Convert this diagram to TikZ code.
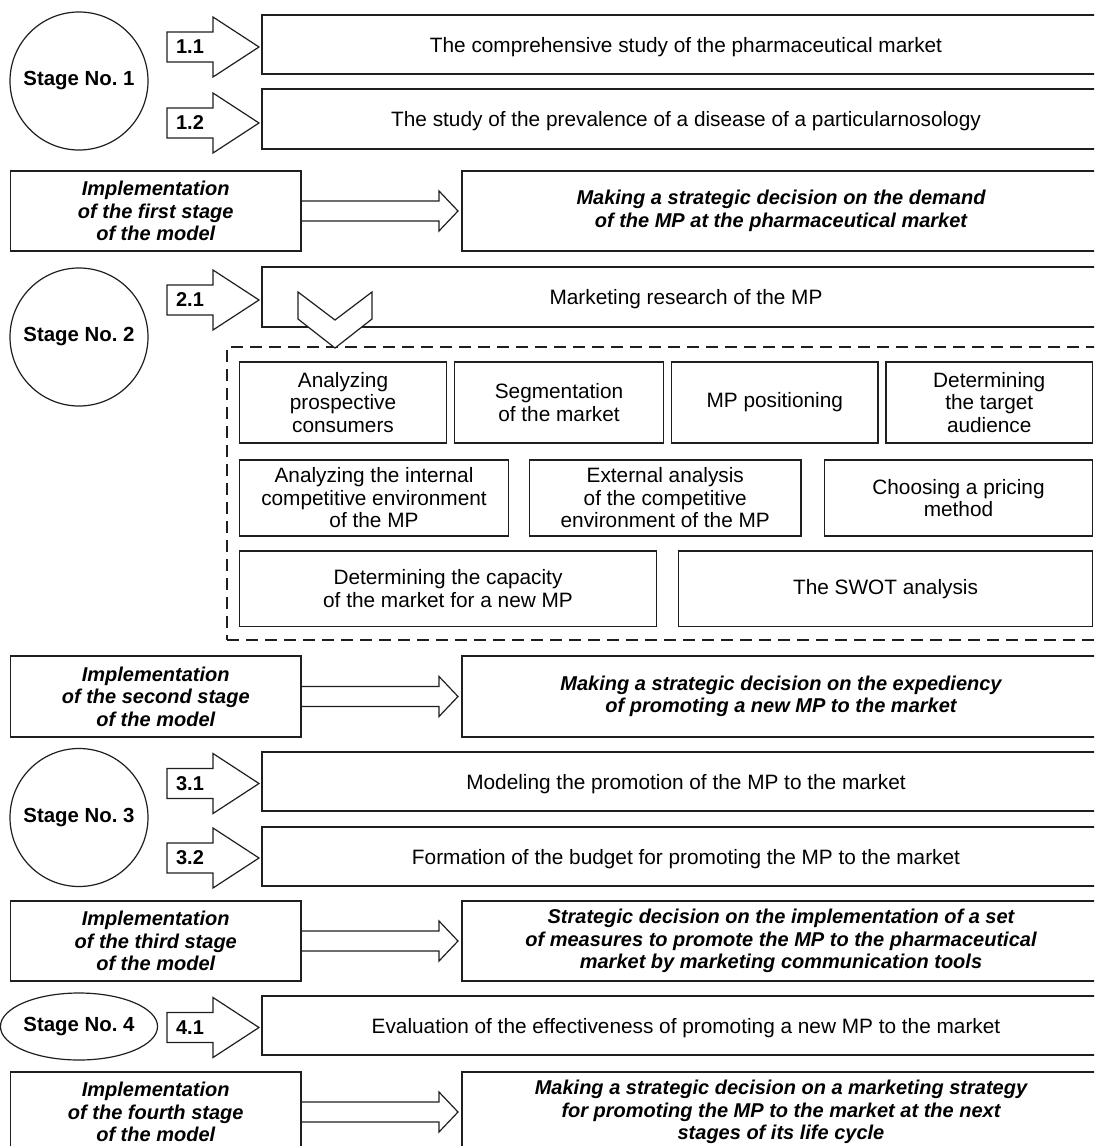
\documentclass[tikz,border=0pt]{standalone}
\usepackage{fontspec}
\setmainfont{Liberation Sans}
\usetikzlibrary{shapes.geometric,calc}
\frenchspacing
\tikzset{
  ln/.style={draw=black!88, line width=0.6pt},
  boxst/.style={ln, rectangle, inner sep=0pt, outer sep=0pt, align=center, fill=white,
    font=\fontsize{10.4}{11.25}\selectfont},
  implbox/.style={boxst, font=\fontsize{10}{11.25}\selectfont\bfseries\itshape},
  stagest/.style={ln, circle, inner sep=0pt, outer sep=0pt, minimum size=69pt,
    font=\fontsize{10.2}{12}\selectfont\bfseries},
  numlbl/.style={inner sep=0pt, font=\fontsize{10}{12}\selectfont\bfseries},
  blockar/.style={ln, fill=white, line join=miter},
  dashbox/.style={draw=black!88, line width=0.6pt, dash pattern=on 6pt off 3.5pt,
    rectangle, inner sep=0pt, outer sep=0pt}
}
\newcommand{\steparrow}[3]{%
  \draw[blockar] (167,#2-15) -- (213,#2-15) -- (213,#2-30) -- (259,#2) -- (213,#2+30)
    -- (213,#2+15) -- (167,#2+15) -- cycle;
  \node[numlbl] (#1) at (190,#2) {#3};
}
\newcommand{\implarrow}[2]{%
  \draw[blockar, fill=none] ($(#1.east)+(0,-10)$) -- ($(#2.west)+(-23,-10)$)
    -- ($(#2.west)+(-23,-20)$) -- ($(#2.west)+(-4,0)$) -- ($(#2.west)+(-23,20)$)
    -- ($(#2.west)+(-23,10)$) -- ($(#1.east)+(0,10)$);
}
\begin{document}
\begin{tikzpicture}[x=0.5pt,y=-0.5pt]
\useasboundingbox (0,0) rectangle (1094,1146);
\clip (0,0) rectangle (1094,1146);
\fill[white] (0,0) rectangle (1094,1146);

% ---------- Stage 1 ----------
\node[stagest] (s1) at (79,81) {Stage No.\ 1};
\node[boxst, text depth=0pt, minimum width=424pt, minimum height=29.5pt] (b11) at (686,44.5)
  {The comprehensive study of the pharmaceutical market};
\node[boxst, text depth=0pt, minimum width=424pt, minimum height=30pt] (b12) at (686,119)
  {The study of the prevalence of a disease of a particularnosology};
\steparrow{n11}{47}{1.1}
\steparrow{n12}{123}{1.2}

\node[implbox, minimum width=145.25pt, minimum height=40pt] (i1) at (155.75,211)
  {Implementation\\of the first stage\\of the model};
\node[implbox, minimum width=319pt, minimum height=40pt] (d1) at (781,211)
  {Making a strategic decision on the demand\\of the MP at the pharmaceutical market};
\implarrow{i1}{d1}

% ---------- Stage 2 ----------
\node[stagest] (s2) at (79,337) {Stage No.\ 2};
\node[boxst, text depth=0pt, minimum width=424pt, minimum height=30pt] (b21) at (686,297)
  {Marketing research of the MP};
\steparrow{n21}{300}{2.1}

\node[dashbox, minimum width=439pt, minimum height=146.5pt] (dash) at (666,493.5) {};

\node[boxst, minimum width=103.5pt, minimum height=40.5pt] (r1a) at (343,402.5)
  {Analyzing\\prospective\\consumers};
\node[boxst, minimum width=104.5pt, minimum height=40.5pt] (r1b) at (559,402.5)
  {Segmentation\\of the market};
\node[boxst, minimum width=103.25pt, minimum height=40.5pt] (r1c) at (774.75,402.5)
  {MP positioning};
\node[boxst, minimum width=103.25pt, minimum height=40.5pt] (r1d) at (989.25,402.5)
  {Determining\\the target\\audience};

\node[boxst, minimum width=134.5pt, minimum height=38pt] (r2a) at (374,498)
  {Analyzing the internal\\competitive environment\\of the MP};
\node[boxst, minimum width=135.75pt, minimum height=38pt] (r2b) at (665.25,498)
  {External analysis\\of the competitive\\environment of the MP};
\node[boxst, minimum width=134pt, minimum height=38pt] (r2c) at (958.5,498)
  {Choosing a pricing\\method};

\node[boxst, minimum width=208.5pt, minimum height=37.75pt] (r3a) at (448,588.75)
  {Determining the capacity\\of the market for a new MP};
\node[boxst, minimum width=207pt, minimum height=37.75pt] (r3b) at (885.5,588.75)
  {The SWOT analysis};

\draw[blockar] (298,292) -- (335,320) -- (372,292) -- (372,319) -- (335,348)
  -- (298,319) -- cycle;

\node[implbox, minimum width=145.25pt, minimum height=40.5pt] (i2) at (155.75,696.5)
  {Implementation\\of the second stage\\of the model};
\node[implbox, minimum width=319pt, minimum height=40.5pt] (d2) at (781,696.5)
  {Making a strategic decision on the expediency\\of promoting a new MP to the market};
\implarrow{i2}{d2}

% ---------- Stage 3 ----------
\node[stagest] (s3) at (79,817.5) {Stage No.\ 3};
\node[boxst, text depth=0pt, minimum width=424pt, minimum height=29.5pt] (b31) at (686,781.5)
  {Modeling the promotion of the MP to the market};
\node[boxst, text depth=0pt, minimum width=424pt, minimum height=29.5pt] (b32) at (686,856.5)
  {Formation of the budget for promoting the MP to the market};
\steparrow{n31}{783.5}{3.1}
\steparrow{n32}{858}{3.2}

\node[implbox, minimum width=145.25pt, minimum height=40pt] (i3) at (155.75,941)
  {Implementation\\of the third stage\\of the model};
\node[implbox, minimum width=319pt, minimum height=40pt] (d3) at (781,941)
  {Strategic decision on the implementation of a set\\of measures to promote the MP to the pharmaceutical\\market by marketing communication tools};
\implarrow{i3}{d3}

% ---------- Stage 4 ----------
\node[ln, ellipse, inner sep=0pt, outer sep=0pt, minimum width=70pt, minimum height=33.5pt,
  font=\fontsize{10.2}{12}\selectfont\bfseries] (s4) at (79,1026.5) {Stage No.\ 4};
\node[boxst, text depth=0pt, minimum width=424pt, minimum height=29.5pt] (b41) at (686,1025.5)
  {Evaluation of the effectiveness of promoting a new MP to the market};
\steparrow{n41}{1027.5}{4.1}

\node[implbox, minimum width=145.25pt, minimum height=40pt] (i4) at (155.75,1112)
  {Implementation\\of the fourth stage\\of the model};
\node[implbox, minimum width=319pt, minimum height=40pt] (d4) at (781,1112)
  {Making a strategic decision on a marketing strategy\\for promoting the MP to the market at the next\\stages of its life cycle};
\implarrow{i4}{d4}
\end{tikzpicture}
\end{document}
